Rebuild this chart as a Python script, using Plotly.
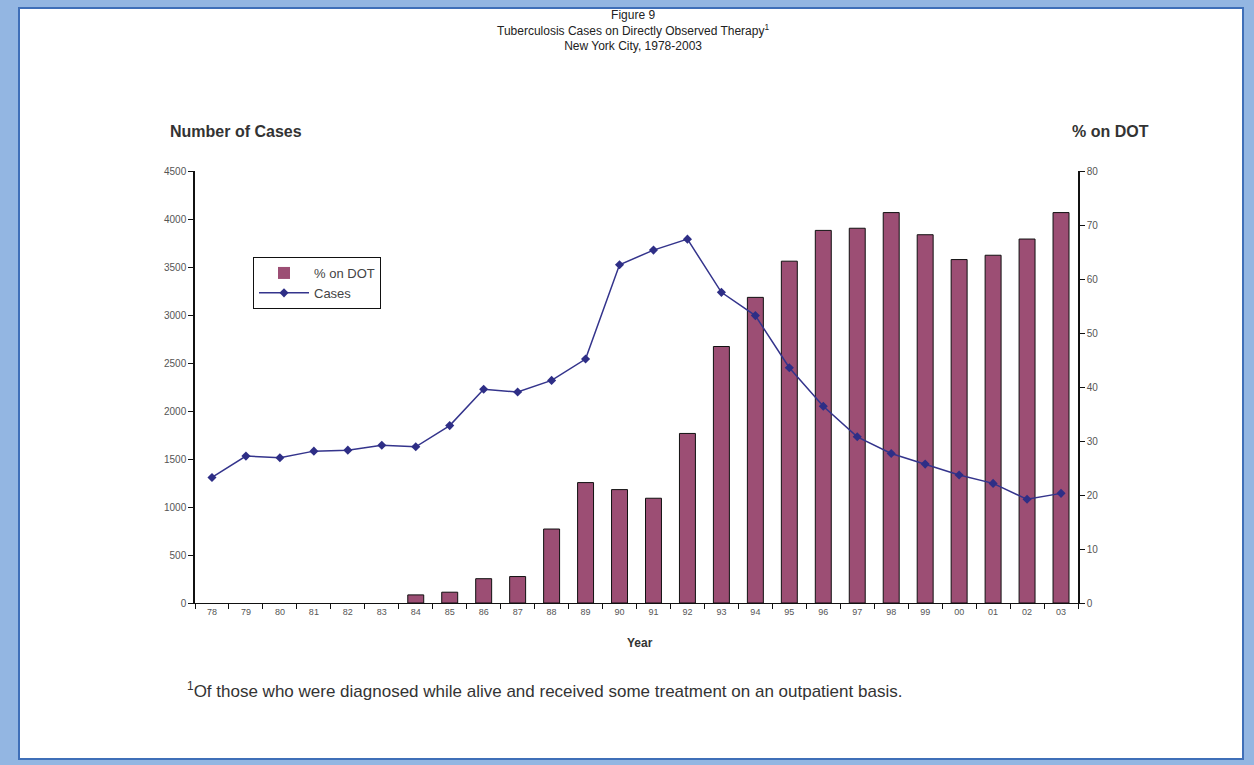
import plotly.graph_objects as go

years = ["78", "79", "80", "81", "82", "83", "84", "85", "86", "87", "88", "89", "90",
         "91", "92", "93", "94", "95", "96", "97", "98", "99", "00", "01", "02", "03"]
pct_on_dot = [0, 0, 0, 0, 0, 0, 1.5, 2.0, 4.5, 4.9, 13.7, 22.3, 21.0,
              19.4, 31.4, 47.5, 56.6, 63.3, 69.0, 69.4, 72.3, 68.2, 63.6, 64.4, 67.4, 72.3]
cases = [1308, 1530, 1513, 1582, 1592, 1644, 1627, 1848, 2226, 2198, 2319, 2541, 3524,
         3676, 3790, 3236, 2994, 2451, 2049, 1731, 1558, 1447, 1333, 1246, 1080, 1142]

W, H = 1254, 765
L, R, T, B = 195, 1078, 171, 603
pw, ph = R - L, B - T


def px(x):
    return (x - L) / pw


def py(y):
    return (B - y) / ph


FONT = "Liberation Sans, Arial, sans-serif"
TICKC = "#555555"

fig = go.Figure()
fig.add_trace(go.Bar(
    x=years, y=pct_on_dot, name="% on DOT", yaxis="y",
    marker=dict(color="#9C4E74",
                line=dict(color="#111111", width=[1 if v > 0 else 0 for v in pct_on_dot])),
    width=0.47,
))
fig.add_trace(go.Scatter(
    x=years, y=cases, name="Cases", yaxis="y2", mode="lines+markers",
    line=dict(color="#34348C", width=1.5),
    marker=dict(symbol="diamond", size=7, color="#2E2E86"),
))

fig.update_layout(
    width=W, height=H,
    margin=dict(l=L, r=W - R, t=T, b=H - B, pad=0),
    paper_bgcolor="#93B6E2",
    plot_bgcolor="white",
    showlegend=True,
    legend=dict(
        x=px(253), y=py(257), xanchor="left", yanchor="top",
        bgcolor="white", bordercolor="#111111", borderwidth=1,
        font=dict(family=FONT, size=13, color="#444444"),
        traceorder="normal", itemwidth=50, tracegroupgap=0,
    ),
    xaxis=dict(
        type="category", range=[-0.5, 25.5], showline=True, linecolor="#111111",
        linewidth=1, ticks="outside", ticklen=5, tickcolor="#111111",
        tickson="boundaries", showgrid=False, zeroline=False,
        tickfont=dict(family=FONT, size=9, color=TICKC),
    ),
    yaxis=dict(
        side="right", range=[0, 80], dtick=10, showline=True, linecolor="#111111",
        linewidth=1.5, ticks="outside", ticklen=5, tickcolor="#111111",
        showgrid=False, zeroline=False,
        tickfont=dict(family=FONT, size=10, color=TICKC),
    ),
    yaxis2=dict(
        side="left", overlaying="y", range=[0, 4500], dtick=500, showline=True,
        linecolor="#111111", linewidth=1.5, ticks="outside", ticklen=5,
        tickcolor="#111111", showgrid=False, zeroline=False,
        tickfont=dict(family=FONT, size=10, color=TICKC),
    ),
    shapes=[
        dict(type="rect", xref="paper", yref="paper", layer="below",
             x0=px(19), x1=px(1243), y0=py(759), y1=py(8),
             fillcolor="white", line=dict(color="#3F6FB8", width=2)),
    ],
    annotations=[
        dict(text="Figure 9<br>Tuberculosis Cases on Directly Observed Therapy<sup>1</sup><br>New York City, 1978-2003",
             x=px(633), y=py(30), xref="paper", yref="paper", showarrow=False,
             xanchor="center", yanchor="middle", align="center",
             font=dict(family=FONT, size=12, color="#222222")),
        dict(text="<b>Number of Cases</b>", x=px(168), y=py(131), xref="paper", yref="paper",
             showarrow=False, xanchor="left", yanchor="middle",
             font=dict(family=FONT, size=16, color="#333333")),
        dict(text="<b>% on DOT</b>", x=px(1151), y=py(131), xref="paper", yref="paper",
             showarrow=False, xanchor="right", yanchor="middle",
             font=dict(family=FONT, size=16, color="#333333")),
        dict(text="<b>Year</b>", x=px(640), y=py(643), xref="paper", yref="paper",
             showarrow=False, xanchor="center", yanchor="middle",
             font=dict(family=FONT, size=12, color="#333333")),
        dict(text="<sup>1</sup>Of those who were diagnosed while alive and received some treatment on an outpatient basis.",
             x=px(185), y=py(690), xref="paper", yref="paper",
             showarrow=False, xanchor="left", yanchor="middle",
             font=dict(family=FONT, size=17, color="#333333")),
    ],
)

fig.write_html("out.html")
